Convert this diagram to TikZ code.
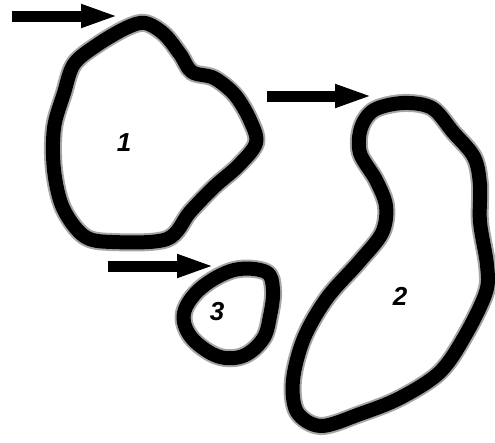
\documentclass[tikz,border=0pt]{standalone}
\usepackage{fontspec}
\setsansfont{Liberation Sans}
\usetikzlibrary{arrows.meta,positioning}

\tikzset{
  rim/.style={line width=14pt,line join=round,
    preaction={draw,black!35,line width=18pt}},
  pointer/.style={line width=11pt,-{Triangle[length=38pt,width=21pt]}},
  tag/.style={font=\fontsize{26}{26}\selectfont\sffamily\bfseries\itshape}
}

\begin{document}
\begin{tikzpicture}[x=1pt,y=-1pt]
	\useasboundingbox[fill=white] (0,0) rectangle (495,442);
	
	% region 1
	\draw[rim] plot[smooth cycle,tension=0.55] coordinates {
		(145,23) (164,34) (180,54) (192,72) (214,78) (235,95)
		(250,120) (256,143) (238,166) (214,187) (190,212) (167,239)
		(112,242) (84,236) (63,208) (54,170) (54,128) (64,93)
		(74,64) (97,45) (126,28)};
	
	% region 2
	\draw[rim] plot[smooth cycle,tension=0.55] coordinates {
		(403,103) (432,108) (453,132) (474,157) (480,185) (480,222)
		(487,265) (486,292) (466,334) (440,372) (400,398) (360,414)
		(321,426) (297,412) (293,380) (304,338) (327,298) (359,262)
		(382,233) (386,206) (376,180) (360,153) (361,128) (374,110)};
	
	% region 3
	\draw[rim] plot[smooth cycle,tension=0.6] coordinates {
		(266,272) (234,270) (201,288) (184,313) (191,337) (217,356)
		(243,356) (263,339) (270,316) (273,290)};
	
	\node[tag] (one) at (124,143) {1};
	\node[tag] (two) at (400,296) {2};
	\node[tag] (three) at (217,312) {3};
	
	\coordinate (tailA) at (12,16);
	\coordinate (tipA) at (119,16);
	\coordinate (tailB) at (267,96);
	\coordinate (tipB) at (373,96);
	\coordinate (tailC) at (108,266);
	\coordinate (tipC) at (215,266);
	
	\draw[pointer] (tailA) -- (tipA);
	\draw[pointer] (tailB) -- (tipB);
	\draw[pointer] (tailC) -- (tipC);
	
\end{tikzpicture}
\end{document}
